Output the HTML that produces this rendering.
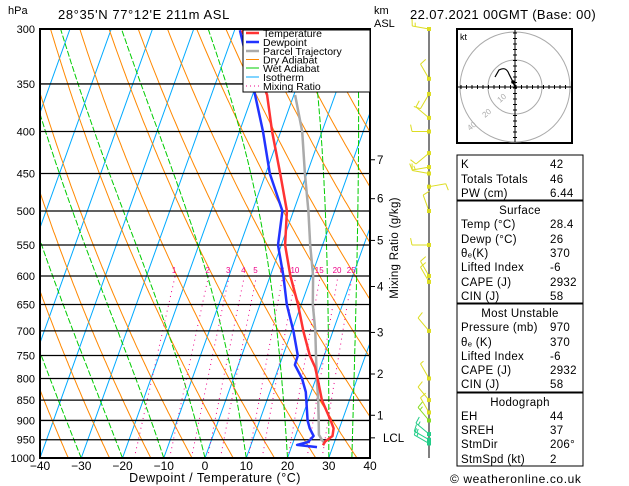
<!DOCTYPE html>
<html><head><meta charset="utf-8">
<style>
body{margin:0;background:#fff;}
svg{display:block;font-family:"Liberation Sans",sans-serif;}
</style></head>
<body>
<svg id="c" width="629" height="486" viewBox="0 0 629 486" xmlns="http://www.w3.org/2000/svg">
<defs><clipPath id="plotclip"><rect x="40" y="29" width="330" height="429"/></clipPath></defs>
<g id="bg" clip-path="url(#plotclip)"></g>
<g id="isob"></g>
<g id="prof" clip-path="url(#plotclip)"></g>
<rect x="40" y="29" width="330" height="429" fill="none" stroke="#000" stroke-width="2"/>
<g id="txt" font-size="11"></g>
<text x="8" y="14" font-size="11">hPa</text>
<text x="58" y="19" font-size="13" letter-spacing="0.6">28°35'N  77°12'E  211m  ASL</text>
<text x="374" y="14" font-size="11">km</text>
<text x="374" y="27" font-size="11">ASL</text>
<text x="410" y="19" font-size="13" letter-spacing="0.4">22.07.2021  00GMT  (Base: 00)</text>
<text x="215" y="482" font-size="12.5" text-anchor="middle" letter-spacing="0.5">Dewpoint / Temperature (°C)</text>
<text transform="translate(398,248) rotate(-90)" font-size="11.5" text-anchor="middle" letter-spacing="0.3">Mixing Ratio (g/kg)</text>
<g>
<rect x="243" y="30" width="127" height="62" fill="#fff" stroke="#000" stroke-width="1"/>
<g font-size="10.5">
<line x1="246" y1="33" x2="259" y2="33" stroke="#f33" stroke-width="2.5"/><text x="263" y="37">Temperature</text>
<line x1="246" y1="42" x2="259" y2="42" stroke="#23f" stroke-width="2.5"/><text x="263" y="46">Dewpoint</text>
<line x1="246" y1="51" x2="259" y2="51" stroke="#aaa" stroke-width="2.5"/><text x="263" y="55">Parcel Trajectory</text>
<line x1="246" y1="59.5" x2="259" y2="59.5" stroke="#f80" stroke-width="1"/><text x="263" y="63.5">Dry Adiabat</text>
<line x1="246" y1="68" x2="259" y2="68" stroke="#0c0" stroke-width="1"/><text x="263" y="72">Wet Adiabat</text>
<line x1="246" y1="77" x2="259" y2="77" stroke="#0af" stroke-width="1"/><text x="263" y="81">Isotherm</text>
<line x1="246" y1="86" x2="259" y2="86" stroke="#e08" stroke-width="1" stroke-dasharray="1,3"/><text x="263" y="90">Mixing Ratio</text>
</g></g>
<g id="wind"></g>
<g>
<rect x="457" y="29" width="115" height="114" fill="#fff" stroke="#000" stroke-width="2"/>
<g clip-path="inset(0)">
<circle cx="515" cy="87" r="27" fill="none" stroke="#aaa"/>
<circle cx="515" cy="87" r="55" fill="none" stroke="#aaa"/>
</g>
<line x1="458" y1="87" x2="571" y2="87" stroke="#000"/>
<line x1="515" y1="30" x2="515" y2="142" stroke="#000"/>
<g id="hodoticks" stroke="#000"></g>
<text x="460" y="40" font-size="9">kt</text>
<text x="500" y="103" font-size="8" fill="#aaa" transform="rotate(-40 500 103)">10</text>
<text x="485" y="118" font-size="8" fill="#aaa" transform="rotate(-40 485 118)">20</text>
<text x="470" y="131" font-size="8" fill="#aaa" transform="rotate(-40 470 131)">40</text>
<path d="M515,87 L512,80 L509,74 Q506,66 499,70 L495,77" fill="none" stroke="#000" stroke-width="1.2"/>
<circle cx="513" cy="82" r="1.8" fill="#000"/>
</g>
<g font-size="11.5" letter-spacing="0.3">
<rect x="457" y="155" width="126" height="45" fill="none" stroke="#000"/>
<rect x="457" y="201" width="126" height="102" fill="none" stroke="#000"/>
<rect x="457" y="304" width="126" height="88" fill="none" stroke="#000"/>
<rect x="457" y="393" width="126" height="73" fill="none" stroke="#000"/>
<text x="461" y="168">K</text><text x="550" y="168">42</text>
<text x="461" y="183">Totals Totals</text><text x="550" y="183">46</text>
<text x="461" y="197">PW (cm)</text><text x="550" y="197">6.44</text>
<text x="520" y="214" text-anchor="middle">Surface</text>
<text x="461" y="228">Temp (°C)</text><text x="550" y="228">28.4</text>
<text x="461" y="243">Dewp (°C)</text><text x="550" y="243">26</text>
<text x="461" y="257">θₑ(K)</text><text x="550" y="257">370</text>
<text x="461" y="271">Lifted Index</text><text x="550" y="271">-6</text>
<text x="461" y="286">CAPE (J)</text><text x="550" y="286">2932</text>
<text x="461" y="300">CIN (J)</text><text x="550" y="300">58</text>
<text x="520" y="317" text-anchor="middle">Most Unstable</text>
<text x="461" y="331">Pressure (mb)</text><text x="550" y="331">970</text>
<text x="461" y="346">θₑ (K)</text><text x="550" y="346">370</text>
<text x="461" y="360">Lifted Index</text><text x="550" y="360">-6</text>
<text x="461" y="374">CAPE (J)</text><text x="550" y="374">2932</text>
<text x="461" y="388">CIN (J)</text><text x="550" y="388">58</text>
<text x="520" y="406" text-anchor="middle">Hodograph</text>
<text x="461" y="420">EH</text><text x="550" y="420">44</text>
<text x="461" y="434">SREH</text><text x="550" y="434">37</text>
<text x="461" y="448">StmDir</text><text x="550" y="448">206°</text>
<text x="461" y="463">StmSpd (kt)</text><text x="550" y="463">2</text>
</g>
<text x="450" y="483" font-size="12" letter-spacing="0.6">© weatheronline.co.uk</text>
</svg>
<script>
// ---- data ----
const tempP = [301,361,400,450,500,550,600,650,700,750,775,800,850,900,920,940,955,965];
const tempT = [-28.2,-16.5,-12.1,-6.5,-1.6,0.9,4.9,9.2,12.8,16.5,18.8,20.4,23.3,27.2,28.6,29,27.7,27.5];
const dewP = [301,361,400,450,500,550,600,650,700,750,770,800,831,900,920,940,956,964,970];
const dewT = [-28.7,-19.4,-14.3,-9,-2.7,-0.8,3.2,6.5,10.4,13.6,13.7,16.6,18.7,21.6,22.8,24.4,23.6,21.2,26.2];
const parcelP = [361,400,450,500,550,600,650,700,750,800,850,900,937,951,960];
const parcelT = [-9.7,-4.8,-0.5,3.6,7,10.4,12.8,15.7,18,20.2,22.4,24.3,25.6,26.8,27.8];
const pressureTicks = [300,350,400,450,500,550,600,650,700,750,800,850,900,950,1000];
const tempTicks = [-40,-30,-20,-10,0,10,20,30,40];
const kmLabels = ['7','6','5','4','3','2','1','LCL'];
const kmP = [433,483,543,618,703,790,887,945];
const mixRatios = [1,2,3,4,5,8,10,15,20,25];
const windP = [300,345,360,385,400,425,442,450,467,500,550,600,610,700,800,850,880,900,935,950,960];
const windDir = [280,330,210,310,270,230,260,280,80,340,270,330,330,320,330,320,330,320,310,300,300];
const windSpd = [15,10,10,10,10,10,15,10,10,10,10,10,10,10,5,10,10,15,15,15,15];

// ---- axes ----
const NS='http://www.w3.org/2000/svg';
const Y0=29,Y1=458,X0=40,PXT=4.125,SK=153.75/429;
function yP(p){return Y0+(Y1-Y0)*Math.log(p/300)/Math.log(1000/300);}
function xTP(T,p){return X0+PXT*(T+40)+SK*(Y1-yP(p));}
function mk(tag,attrs,parent){const e=document.createElementNS(NS,tag);for(const k in attrs)e.setAttribute(k,attrs[k]);parent.appendChild(e);return e;}
const bg=document.getElementById('bg'),prof=document.getElementById('prof'),txt=document.getElementById('txt'),isob=document.getElementById('isob');
const plevs=[];for(let p=1000;p>=290;p-=5)plevs.push(p);
function poly(pts,attrs,parent){const e=mk('polyline',Object.assign({points:pts.map(a=>a[0].toFixed(1)+','+a[1].toFixed(1)).join(' '),fill:'none'},attrs),parent);return e;}
// isotherms
for(let T=-120;T<=40;T+=10){
  const l=mk('line',{x1:xTP(T,1000),y1:Y1,x2:xTP(T,300),y2:Y0,stroke:'#0af','stroke-width':1},bg);
  
  
}
// dry adiabats
for(let th=200;th<=480;th+=10){
  const pts=plevs.map(p=>[xTP(th*Math.pow(p/1000,0.286)-273.15,p),yP(p)]);
  const e=poly(pts,{stroke:'#f80','stroke-width':1},bg);
  
  
}
// wet adiabats
function es(Tc){return 6.112*Math.exp(17.67*Tc/(Tc+243.5));}
function moist(T0){let T=T0+273.15;const pts=[];
  for(let p=1000;p>=290;p-=1){
    if(p%5===0)pts.push([xTP(T-273.15,p),yP(p)]);
    const e=es(T-273.15),rs=0.622*e/(p-e);
    const dTdp=(287*T+2.501e6*rs)/(p*(1005+2.501e6*2.501e6*rs*0.622/(287*T*T)));
    T-=dTdp*1;}
  return pts;}
for(let T0=-70;T0<=40;T0+=10){
  const e=poly(moist(T0),{stroke:'#0c0','stroke-width':1,'stroke-dasharray':'6,2'},bg);
  
  
}
{const e=poly(moist(35.6),{stroke:'#0c0','stroke-width':1,'stroke-dasharray':'6,2'},bg);
  
  }
// mixing ratio
mixRatios.forEach(w=>{
  const pts=[];for(let p=1000;p>=600;p-=5){const e=w*p/(622+w);const L=Math.log(e/6.112);const Td=243.5*L/(17.67-L);pts.push([xTP(Td,p),yP(p)]);}
  const e=poly(pts,{stroke:'#e08','stroke-width':1,'stroke-dasharray':'1,4'},bg);
  
  
  const e2=w*600/(622+w),L=Math.log(e2/6.112),Td=243.5*L/(17.67-L);
  const t=mk('text',{x:xTP(Td,600)-1,y:yP(600)-3,'font-size':8,fill:'#e08','text-anchor':'middle'},bg);
  t.textContent=String(w);
  
  
});
// isobars + labels
pressureTicks.forEach(p=>{
  const l=mk('line',{x1:X0,y1:yP(p),x2:370,y2:yP(p),stroke:'#000','stroke-width':1.3},isob);
  
  
  const t=mk('text',{x:35,y:yP(p)+4,'text-anchor':'end'},txt);
  t.textContent=String(p);
  
  
});
tempTicks.forEach(T=>{
  const t=mk('text',{x:xTP(T,1000),y:470,'text-anchor':'middle','font-size':12},txt);
  t.textContent=T<0?'\u2212'+(-T):String(T);
  
  
});
kmLabels.forEach((k,i)=>{
  const y=yP(kmP[i]);
  const l=mk('line',{x1:370,y1:y,x2:375,y2:y,stroke:'#000'},txt);
  
  
  const t=mk('text',{x:k==='LCL'?383:377,y:y+4,'font-size':11.5},txt);
  t.textContent=k;
  
  
});
// profiles
function prof2(P,T,col,w,name){const e=poly(P.map((p,i)=>[xTP(T[i],p),yP(p)]),{stroke:col,'stroke-width':w,'stroke-linejoin':'round'},prof);
  
  }
prof2(parcelP,parcelT,'#aaa',2.5,'parcel-trajectory');
prof2(dewP,dewT,'#23f',2.5,'dewpoint-line');
prof2(tempP,tempT,'#f33',2.5,'temperature-line');
// wind barbs
const wind=document.getElementById('wind');
{const l=mk('line',{x1:429,y1:29,x2:429,y2:458,stroke:'#000','stroke-width':1},wind);

}
windP.forEach((p,i)=>{
  const y=yP(p),a=windDir[i]*Math.PI/180,len=17;
  const col=p>=930?'#2c8':(p>=900?'#8d2':'#dd2');
  const x2=429+len*Math.sin(a),y2=y-len*Math.cos(a);
  const g=mk('g',{},wind);
  
  
  mk('line',{x1:429,y1:y,x2:x2,y2:y2,stroke:col},g);
  const n=Math.round(windSpd[i]/10*2)/2;
  for(let k=0;k<Math.ceil(n);k++){const f=1-k*0.18,bx=429+len*f*Math.sin(a),by=y-len*f*Math.cos(a);const bl=(n-k>=1?7:4);
    mk('line',{x1:bx,y1:by,x2:bx+bl*Math.sin(a+Math.PI/2.3),y2:by-bl*Math.cos(a+Math.PI/2.3),stroke:col},g);}
  mk('rect',{x:427,y:y-2,width:4,height:4,fill:col},g);
});
// hodograph ticks
const ht=document.getElementById('hodoticks');
for(let d=-54;d<=54;d+=5.5){if(Math.abs(d)<1)continue;
  mk('line',{x1:515+d,y1:85,x2:515+d,y2:89},ht);mk('line',{x1:513,y1:87+d,x2:517,y2:87+d},ht);}
</script>
</body></html>
